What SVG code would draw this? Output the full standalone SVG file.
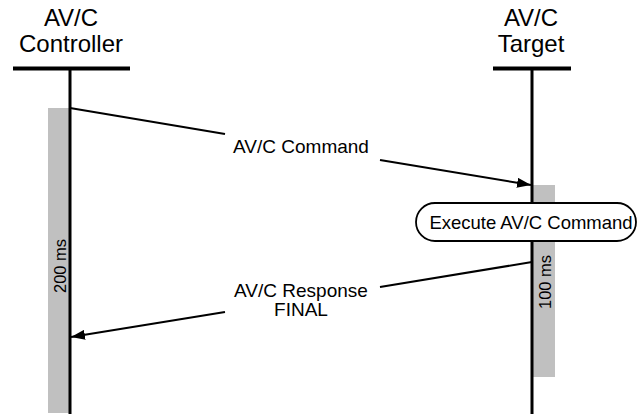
<svg xmlns="http://www.w3.org/2000/svg" width="638" height="415" viewBox="0 0 638 415">
  <style>
    .lbl { font-family: "Liberation Sans", Arial, sans-serif; fill: #000; }
    .head { font-size: 24px; text-anchor: middle; }
    .msg { font-size: 19px; text-anchor: middle; }
    .step { font-size: 18.5px; text-anchor: middle; }
    .dur { font-size: 16.5px; text-anchor: middle; }
    .bar { stroke: #000; stroke-width: 4; }
    .life { stroke: #000; stroke-width: 3; }
    .act { fill: #c0c0c0; }
    .conn { stroke: #000; stroke-width: 2; fill: none; }
  </style>
  <defs>
    <marker id="arrow" viewBox="0 0 14 10" refX="14" refY="5" markerWidth="14" markerHeight="10" markerUnits="userSpaceOnUse" orient="auto">
      <path d="M0,0 L14,5 L0,10 Z" fill="#000"/>
    </marker>
  </defs>

  <!-- Controller lifeline -->
  <g id="controller">
    <text class="lbl head" x="71" y="26">AV/C</text>
    <text class="lbl head" x="71" y="52">Controller</text>
    <rect class="act" x="48" y="108" width="22" height="305"/>
    <line class="bar" x1="13" y1="68.5" x2="130" y2="68.5"/>
    <line class="life" x1="70" y1="68" x2="70" y2="414"/>
    <text class="lbl dur" transform="translate(66,266) rotate(-90)">200 ms</text>
  </g>

  <!-- Target lifeline -->
  <g id="target">
    <text class="lbl head" x="531" y="26">AV/C</text>
    <text class="lbl head" x="531" y="52">Target</text>
    <rect class="act" x="532" y="185" width="23" height="192"/>
    <line class="bar" x1="493" y1="68.5" x2="571" y2="68.5"/>
    <line class="life" x1="532" y1="68" x2="532" y2="414"/>
    <text class="lbl dur" transform="translate(551,282) rotate(-90)">100 ms</text>
  </g>

  <!-- Processing step on the target -->
  <g id="execute">
    <rect x="416" y="203" width="220" height="38" rx="19" ry="19" fill="#fff" stroke="#000" stroke-width="1.8"/>
    <text class="lbl step" x="531" y="229">Execute AV/C Command</text>
  </g>

  <!-- Messages -->
  <g id="connectors">
    <line class="conn" x1="70" y1="108" x2="225" y2="134"/>
    <line class="conn" x1="380" y1="160" x2="531" y2="185" marker-end="url(#arrow)"/>
    <line class="conn" x1="532" y1="262" x2="380" y2="287"/>
    <line class="conn" x1="225" y1="312" x2="71" y2="337" marker-end="url(#arrow)"/>
  </g>

  <g id="labels">
    <text class="lbl msg" x="301" y="153">AV/C Command</text>
    <text class="lbl msg" x="301" y="297">AV/C Response</text>
    <text class="lbl msg" x="301" y="316">FINAL</text>
  </g>
</svg>
